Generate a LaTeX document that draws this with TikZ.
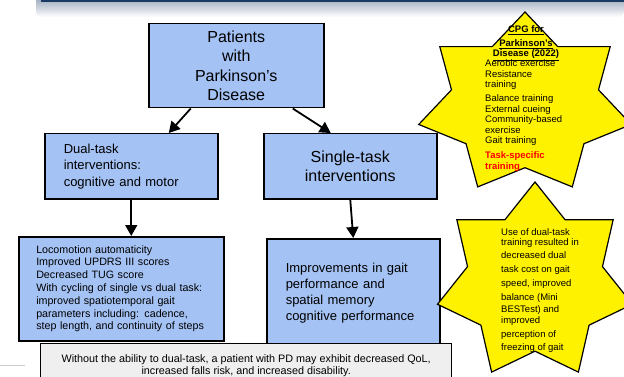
\documentclass[tikz,border=0pt]{standalone}
\usepackage{fontspec}
\setmainfont{Liberation Sans}
\usetikzlibrary{arrows.meta,calc}

\definecolor{boxblue}{HTML}{A4C2F4}
\definecolor{notegray}{HTML}{EFEFEF}
\definecolor{headnavy}{HTML}{1B3A63}
\definecolor{headgray}{HTML}{8696AD}

\begin{document}
\begin{tikzpicture}
[x=1pt,y=-1pt,
  boxdecorate/.style={draw,line width=1.5pt,fill=boxblue,rectangle,inner sep=0pt,anchor=north west},%
  arrowdecorate/.style={-{Triangle[length=11pt,width=12pt]},line width=1.8pt},%
  stardecorate/.style={draw,line width=1.2pt,fill=yellow,line join=miter},%
  startext/.style={font=\fontsize{9.5}{10.5}\selectfont,inner sep=0pt,align=left,anchor=north west}]
\clip (0,0) rectangle (624,377);
%% slide header
\shade[top color=headgray,bottom color=white,rounded corners=6pt] (36,-6) rectangle (624,17);
\fill[headnavy] (41,0) rectangle (624,2);
\draw[black!20,line width=0.8pt] (0,365) -- (25,365);
%% boxes
\node (patients) [boxdecorate,minimum width=175pt,minimum height=84pt,align=center,
  font=\fontsize{16}{19.5}\selectfont] at (148,23) {Patients\\with\\Parkinson’s\\Disease};
\node (dual) [boxdecorate,minimum width=173pt,minimum height=65pt,text width=135pt,align=left,
  font=\fontsize{13}{16.5}\selectfont] at (44,133) {Dual-task\\interventions:\\cognitive and motor};
\node (single) [boxdecorate,minimum width=173pt,minimum height=65pt,align=center,
  font=\fontsize{16}{19}\selectfont] at (263,133) {Single-task\\interventions};
\node (loco) [boxdecorate,minimum width=205pt,minimum height=104pt,text width=170pt,align=left,
  font=\fontsize{10.7}{12.8}\selectfont] at (18,236)
  {Locomotion automaticity\\Improved UPDRS III scores\\Decreased TUG score\\
   With cycling of single vs dual task:\\improved spatiotemporal gait\\
   parameters including: cadence,\\step length, and continuity of steps};
\node (improve) [boxdecorate,minimum width=173pt,minimum height=108pt,text width=135pt,align=left,
  font=\fontsize{13}{16}\selectfont] at (266,238)
  {Improvements in gait\\performance and\\spatial memory\\cognitive performance};
%% arrows
\draw[arrowdecorate] ($(patients.south)+(-45.5,0)$) -- ($(dual.north)+(37.5,0)$);
\draw[arrowdecorate] ($(patients.south)+(56.5,0)$) -- ($(single.north)+(-19.5,0)$);
\draw[arrowdecorate] (dual.south) -- (dual.south |- loco.north);
\draw[arrowdecorate] (single.south) -- (improve.north);
%% CPG star
\coordinate (cpgcentre) at (525,104);
\path[stardecorate] (cpgcentre) +(90:109pt and 92pt)
  \foreach \k in {0,...,6} {
    -- +({90+(\k+0.5)*360/7}:75.4pt and 63.7pt) -- +({90+(\k+1)*360/7}:109pt and 92pt)
  } -- cycle;
\node (cpgtitle) [inner sep=0pt,anchor=north,align=center,
  font=\fontsize{9.5}{12}\bfseries\selectfont] at (526,25.5)
  {\underline{CPG for}\\[2pt]\underline{Parkinson’s}\\[-2pt]\underline{Disease (2022)}};
\node (cpglist) [startext] at (485,59.5)
  {Aerobic exercise\\Resistance\\training\\[3.5pt]Balance training\\External cueing\\
   Community-based\\exercise\\Gait training\\[4.5pt]
   \textcolor{red}{\bfseries Task-specific}\\\textcolor{red}{\bfseries training}};
%% dual-task star
\coordinate (dtcentre) at (535,282);
\path[stardecorate] (dtcentre) +(90:100pt and 100pt)
  \foreach \k in {0,...,6} {
    -- +({90+(\k+0.5)*360/7}:69.2pt and 69.2pt) -- +({90+(\k+1)*360/7}:100pt and 100pt)
  } -- cycle;
\node (dtresult) [startext,font=\fontsize{9.5}{13.3}\selectfont] at (501,228.6)
  {Use of dual-task\\[-3.3pt]training resulted in\\decreased dual\\[0.7pt]task cost on gait\\[0.7pt]
   speed, improved\\balance (Mini\\[-1.3pt]BESTest) and\\[-2.3pt]improved\\[0.7pt]
   perception of\\freezing of gait};
%% note at the bottom
\node (pdnote) [draw,line width=1.3pt,fill=notegray,anchor=north west,minimum width=411pt,
  minimum height=45pt,inner sep=0pt,align=center,font=\fontsize{10.8}{12}\selectfont] at (40,343)
  {Without the ability to dual-task, a patient with PD may exhibit decreased QoL,\\
   increased falls risk, and increased disability.};
\end{tikzpicture}
\end{document}
